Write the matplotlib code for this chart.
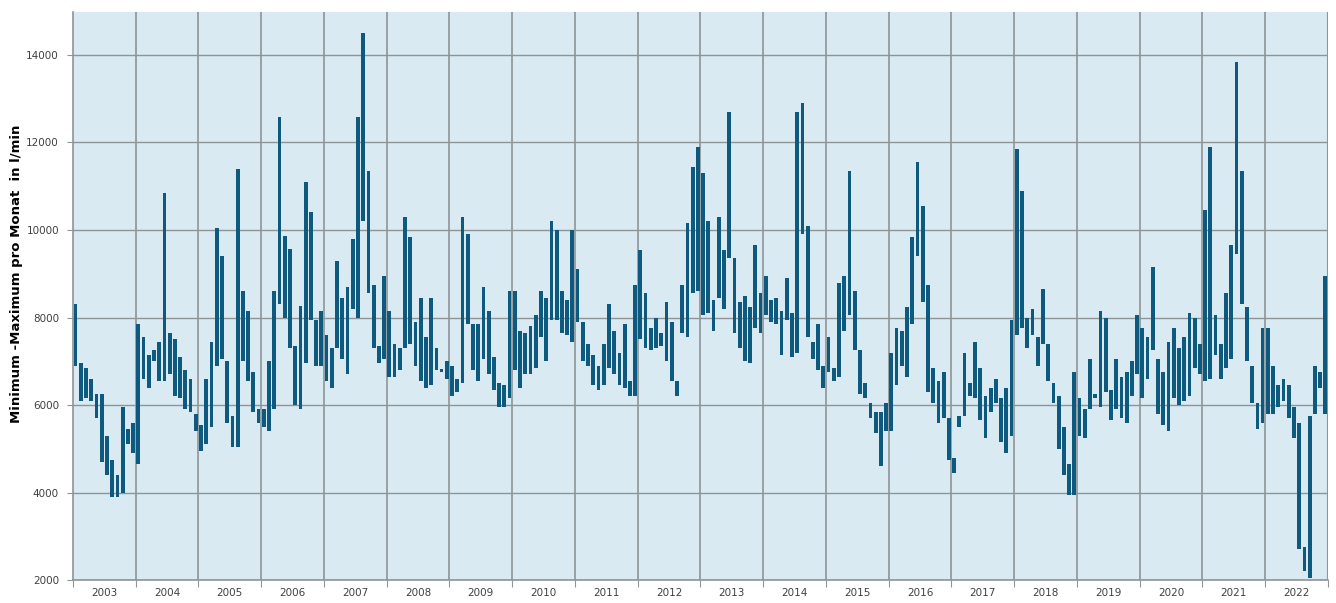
import numpy as np
import matplotlib.pyplot as plt

years = list(range(2003, 2023))

# monthly maximum / minimum in l/min, one list of 12 per year
hi_2003 = [8300, 6950, 6850, 6600, 6250, 6250, 5300, 4750, 4400, 5950, 5450, 5600]
lo_2003 = [6900, 6100, 6150, 6100, 5700, 4700, 4400, 3900, 3900, 4000, 5100, 4900]
hi_2004 = [7850, 7550, 7150, 7250, 7450, 10850, 7650, 7500, 7100, 6800, 6600, 5800]
lo_2004 = [4650, 6600, 6400, 7000, 6550, 6550, 6700, 6200, 6150, 5900, 5850, 5400]
hi_2005 = [5550, 6600, 7450, 10050, 9400, 7000, 5750, 11400, 8600, 8150, 6750, 5900]
lo_2005 = [4950, 5100, 5500, 6900, 7050, 5600, 5050, 5050, 7000, 6550, 5850, 5600]
hi_2006 = [5900, 7000, 8600, 12580, 9870, 9570, 7350, 8270, 11100, 10400, 7950, 8150]
lo_2006 = [5500, 5400, 5900, 8300, 8000, 7300, 6000, 5900, 6950, 7950, 6900, 6900]
hi_2007 = [7600, 7300, 9300, 8450, 8700, 9800, 12580, 14500, 11350, 8750, 7350, 8950]
lo_2007 = [6550, 6400, 7300, 7050, 6700, 8200, 8000, 10200, 8550, 7300, 6950, 7050]
hi_2008 = [8150, 7400, 7300, 10300, 9850, 7900, 8450, 7550, 8450, 7300, 6820, 7000]
lo_2008 = [6650, 6650, 6800, 7300, 7400, 6900, 6550, 6400, 6450, 6800, 6750, 6600]
hi_2009 = [6900, 6600, 10300, 9900, 7850, 7850, 8700, 8150, 7100, 6500, 6450, 8600]
lo_2009 = [6200, 6300, 6500, 7850, 6800, 6550, 7050, 6700, 6350, 5950, 5950, 6150]
hi_2010 = [8600, 7700, 7650, 7800, 8050, 8600, 8450, 10200, 10000, 8600, 8400, 10000]
lo_2010 = [6800, 6400, 6700, 6700, 6850, 7550, 7000, 7950, 7950, 7650, 7600, 7450]
hi_2011 = [9100, 7900, 7400, 7150, 6900, 7400, 8300, 7700, 7200, 7850, 6550, 8750]
lo_2011 = [7900, 7000, 6900, 6450, 6350, 6450, 6850, 6700, 6450, 6400, 6200, 6200]
hi_2012 = [9550, 8550, 7750, 8000, 7650, 8350, 7900, 6550, 8750, 10150, 11450, 11900]
lo_2012 = [7500, 7300, 7250, 7300, 7350, 7000, 6550, 6200, 7650, 7550, 8550, 8600]
hi_2013 = [11300, 10200, 8400, 10300, 9550, 12700, 9350, 8350, 8500, 8250, 9650, 8550]
lo_2013 = [8050, 8100, 7700, 8450, 8200, 9350, 7650, 7300, 7000, 6950, 7750, 7650]
hi_2014 = [8950, 8400, 8450, 8150, 8900, 8100, 12700, 12900, 10100, 7450, 7850, 6900]
lo_2014 = [8050, 7900, 7850, 7150, 7950, 7100, 7200, 9900, 7550, 7050, 6800, 6400]
hi_2015 = [7550, 6850, 8800, 8950, 11350, 8600, 7250, 6500, 6050, 5850, 5850, 6050]
lo_2015 = [6750, 6550, 6650, 7700, 8050, 7250, 6250, 6150, 5700, 5350, 4600, 5400]
hi_2016 = [7200, 7750, 7700, 8250, 9850, 11550, 10550, 8750, 6850, 6550, 6750, 5700]
lo_2016 = [5400, 6450, 6900, 6650, 7850, 9400, 8350, 6300, 6050, 5600, 5700, 4750]
hi_2017 = [4800, 5750, 7200, 6500, 7450, 6850, 6200, 6400, 6600, 6150, 6400, 7950]
lo_2017 = [4450, 5500, 5750, 6200, 6150, 5650, 5250, 5850, 6050, 5150, 4900, 5300]
hi_2018 = [11850, 10900, 8000, 8200, 7550, 8650, 7400, 6500, 6200, 5500, 4650, 6750]
lo_2018 = [7600, 7750, 7300, 7600, 6900, 7400, 6550, 6050, 5000, 4400, 3950, 3950]
hi_2019 = [6150, 5900, 7050, 6250, 8150, 8000, 6350, 7050, 6650, 6750, 7000, 8050]
lo_2019 = [5300, 5250, 5900, 6150, 5950, 6300, 5650, 5900, 5700, 5600, 6200, 6700]
hi_2020 = [7750, 7550, 9150, 7050, 6750, 7450, 7750, 7300, 7550, 8100, 8000, 7400]
lo_2020 = [6150, 6600, 7250, 5800, 5550, 5400, 6150, 6000, 6100, 6200, 6850, 6700]
hi_2021 = [10450, 11900, 8050, 7400, 8550, 9650, 13850, 11350, 8250, 6900, 6050, 7750]
lo_2021 = [6550, 6600, 7150, 6600, 6850, 7050, 9450, 8300, 7000, 6050, 5450, 5600]
hi_2022 = [7750, 6900, 6450, 6600, 6450, 5950, 5600, 2750, 5750, 6900, 6750, 8950]
lo_2022 = [5800, 5800, 5950, 6100, 5700, 5250, 2700, 2200, 2050, 5800, 6400, 5800]

hi = np.concatenate([globals()[f"hi_{y}"] for y in years])
lo = np.concatenate([globals()[f"lo_{y}"] for y in years])
months = np.arange(len(hi))

bar_color = "#0e5a7e"
grid_color = "#8f9496"
text_color = "#404040"

fig = plt.figure(figsize=(13.36, 6.03), dpi=100)
ax = fig.add_axes([0.0546, 0.038, 0.9394, 0.942])
ax.set_facecolor("#d9eaf2")

ax.bar(months, hi - lo, bottom=lo, width=0.72, color=bar_color, zorder=3)

ax.set_xlim(-0.5, len(hi) - 0.5)
ax.set_ylim(2000, 14980)

# horizontal grid
ax.set_yticks(range(2000, 14001, 2000))
ax.yaxis.grid(True, color=grid_color, linewidth=1.0, zorder=1)
ax.tick_params(axis="y", length=4, color=grid_color, labelsize=7.5, labelcolor=text_color, pad=6)

# year separators and year labels
bounds = np.arange(-0.5, len(hi), 12)
for b in bounds[1:]:
    ax.axvline(b, color=grid_color, linewidth=1.2, zorder=1)
ax.axvline(len(hi) - 0.5, color=grid_color, linewidth=1.5, zorder=1)
ax.set_xticks(bounds)
ax.set_xticklabels([])
ax.set_xticks(np.arange(5.5, len(hi), 12), minor=True)
ax.set_xticklabels([str(y) for y in years], minor=True)
ax.tick_params(axis="x", which="major", length=5, color=grid_color)
ax.tick_params(axis="x", which="minor", length=0, labelsize=7.5, labelcolor=text_color, pad=6)

for s in ["top", "right"]:
    ax.spines[s].set_visible(False)
for s in ["left", "bottom"]:
    ax.spines[s].set_color(grid_color)
    ax.spines[s].set_linewidth(1.2)

ax.set_ylabel("Minimum -Maximum pro Monat  in l/min", fontsize=9.5, fontweight="bold")
ax.yaxis.set_label_coords(-0.0395, 0.54)

fig.savefig("out.png", dpi=100)
